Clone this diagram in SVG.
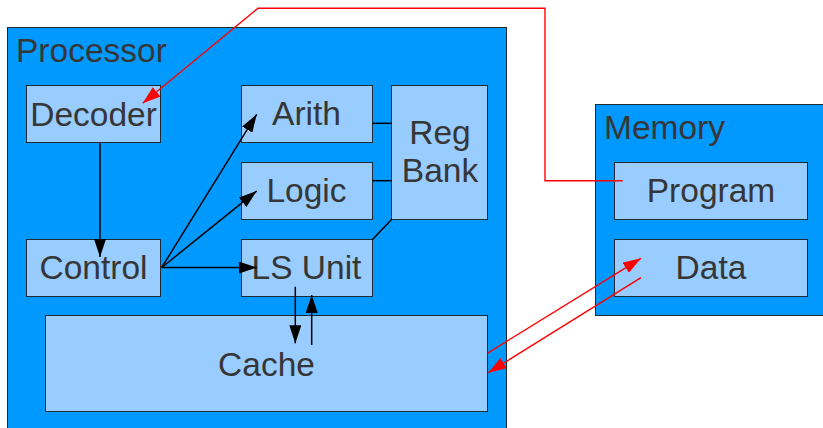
<svg xmlns="http://www.w3.org/2000/svg" width="823" height="428" viewBox="0 0 823 428">
  <style>
    .outer { fill: #0099ff; stroke: #1f2a33; stroke-width: 1; }
    .inner { fill: #99ccff; stroke: #1f2a33; stroke-width: 1; }
    text { font-family: "Liberation Sans", Arial, sans-serif; font-size: 33.5px; fill: #363636; }
    .c { text-anchor: middle; }
    .blk { fill: none; stroke: #000000; stroke-width: 1.5; }
    .red { fill: none; stroke: #ff0000; stroke-width: 1.4; }
  </style>
  <defs>
    <marker id="arrowBlack" viewBox="0 0 18 12" refX="18" refY="6" markerWidth="18" markerHeight="12" markerUnits="userSpaceOnUse" orient="auto">
      <path d="M0,0 L18,6 L0,12 z" fill="#000000"/>
    </marker>
    <marker id="arrowRed" viewBox="0 0 18 12" refX="18" refY="6" markerWidth="18" markerHeight="12" markerUnits="userSpaceOnUse" orient="auto">
      <path d="M0,0 L18,6 L0,12 z" fill="#ff0000"/>
    </marker>
  </defs>

  <rect width="823" height="428" fill="#ffffff"/>

  <!-- containers -->
  <g id="processor">
    <rect class="outer" x="7.5" y="27.5" width="499" height="410"/>
    <text x="16" y="62">Processor</text>
  </g>
  <g id="memory">
    <rect class="outer" x="595.5" y="104.5" width="240" height="211"/>
    <text x="604" y="139">Memory</text>
  </g>

  <!-- processor units -->
  <g id="decoder">
    <rect class="inner" x="26.5" y="85.5" width="134" height="57"/>
    <text class="c" x="93.5" y="126">Decoder</text>
  </g>
  <g id="control">
    <rect class="inner" x="26.5" y="239.5" width="134" height="57"/>
    <text class="c" x="93.5" y="279">Control</text>
  </g>
  <g id="arith">
    <rect class="inner" x="241.5" y="85.5" width="131" height="57"/>
    <text class="c" x="306.5" y="125">Arith</text>
  </g>
  <g id="logic">
    <rect class="inner" x="241.5" y="162.5" width="131" height="57"/>
    <text class="c" x="306.5" y="202">Logic</text>
  </g>
  <g id="ls-unit">
    <rect class="inner" x="241.5" y="239.5" width="131" height="57"/>
    <text class="c" x="306.5" y="279">LS Unit</text>
  </g>
  <g id="reg-bank">
    <rect class="inner" x="391.5" y="85.5" width="96" height="134"/>
    <text class="c" x="440" y="144">Reg</text>
    <text class="c" x="440" y="182">Bank</text>
  </g>
  <g id="cache">
    <rect class="inner" x="45.5" y="315.5" width="442" height="96"/>
    <text class="c" x="266.5" y="376">Cache</text>
  </g>

  <!-- memory sections -->
  <g id="program">
    <rect class="inner" x="614.5" y="162.5" width="193" height="57"/>
    <text class="c" x="711" y="202">Program</text>
  </g>
  <g id="data">
    <rect class="inner" x="614.5" y="239.5" width="193" height="57"/>
    <text class="c" x="711" y="279">Data</text>
  </g>

  <!-- connectors -->
  <g id="connectors">
    <path class="blk" d="M100,143 L100,257" marker-end="url(#arrowBlack)"/>
    <path class="blk" d="M161.7,267.5 L256.7,114.3" marker-end="url(#arrowBlack)"/>
    <path class="blk" d="M161.7,267.5 L256.7,191" marker-end="url(#arrowBlack)"/>
    <path class="blk" d="M161.7,267.5 L256.7,267.5" marker-end="url(#arrowBlack)"/>
    <path class="blk" d="M372.5,123.3 L391.5,123.3"/>
    <path class="blk" d="M372.5,180.7 L391.5,180.7"/>
    <path class="blk" d="M372.5,239.5 L391.5,219.5"/>
    <path class="blk" d="M295.3,286.7 L295.3,343.3" marker-end="url(#arrowBlack)"/>
    <path class="blk" d="M311.7,345 L311.7,295" marker-end="url(#arrowBlack)"/>

    <path class="red" d="M622.7,180.7 L545,180.7 L545,8.3 L258,8.3 L142.7,103.3" marker-end="url(#arrowRed)"/>
    <path class="red" d="M487.3,353.3 L641,258.3" marker-end="url(#arrowRed)"/>
    <path class="red" d="M641,277.7 L488.3,372.7" marker-end="url(#arrowRed)"/>
  </g>
</svg>
